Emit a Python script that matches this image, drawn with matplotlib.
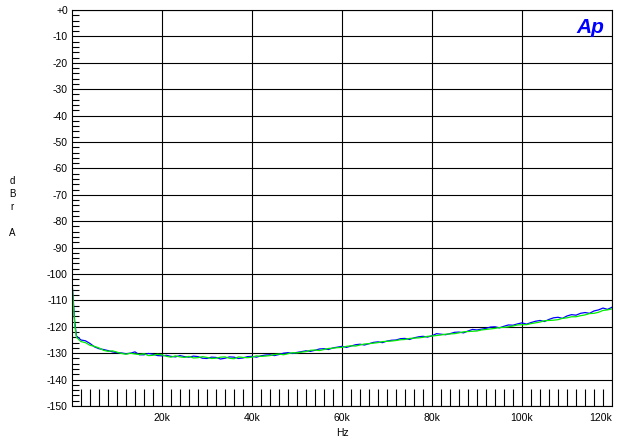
#!/usr/bin/env python3
"""
Audio Precision style noise sweep: dBr A vs Hz
"""

import numpy as np
import matplotlib
matplotlib.use('Agg')
import matplotlib.pyplot as plt
from matplotlib.ticker import MultipleLocator, FixedLocator

plt.rcParams['font.family'] = ['Liberation Sans', 'DejaVu Sans']

# frequency points in kHz: low end, then 1 kHz steps 1..120
freq_khz = [0.01, 0.3, 0.6] + list(range(1, 121))

blue_db = [-103.0, -110.0, -118.0,
           -123.5, -125.0, -125.3, -126.3, -127.6, -128.3, -128.6, -129.0, -129.5, -129.8,
           -129.9, -130.2, -130.0, -129.5, -130.6, -130.6, -130.1, -130.4, -130.9, -131.0,
           -130.8, -131.2, -131.4, -130.9, -131.3, -131.5, -131.1, -131.3, -131.9, -132.0,
           -131.5, -131.6, -132.2, -131.9, -131.4, -131.5, -132.0, -131.8, -131.3, -131.2,
           -131.5, -131.0, -130.7, -130.6, -130.9, -130.5, -130.0, -129.8, -130.1, -129.7,
           -129.4, -129.1, -129.3, -128.9, -128.4, -128.3, -128.6, -128.0, -127.7, -127.4,
           -127.8, -127.3, -126.8, -126.6, -126.9, -126.4, -125.9, -125.7, -126.0, -125.4,
           -125.1, -125.0, -124.5, -124.4, -124.8, -124.2, -123.8, -123.6, -123.9, -123.4,
           -122.6, -122.8, -123.0, -122.6, -122.1, -122.0, -122.3, -121.6, -121.0, -121.2,
           -120.9, -120.6, -120.1, -120.0, -120.4, -119.8, -119.3, -119.4, -118.9, -118.5,
           -119.0, -118.4, -117.9, -117.6, -118.0, -117.2, -116.6, -116.4, -116.8, -115.9,
           -115.4, -115.6, -114.9, -114.6, -114.9, -114.0, -113.6, -112.9, -113.4, -112.6]

green_db = [-102.5, -111.0, -119.0,
            -124.0, -125.6, -126.0, -127.0, -127.4, -128.0, -128.9, -129.3, -129.1, -129.6,
            -130.1, -130.4, -130.0, -130.3, -130.5, -130.2, -130.9, -130.8, -130.4, -130.6,
            -131.2, -131.5, -131.0, -131.4, -131.6, -131.2, -131.8, -131.7, -131.3, -131.6,
            -132.0, -131.9, -131.5, -131.4, -131.9, -132.1, -131.4, -131.6, -131.7, -131.5,
            -131.0, -131.2, -131.1, -130.9, -130.5, -130.3, -130.6, -130.2, -129.8, -129.9,
            -129.6, -129.4, -128.9, -128.8, -129.0, -128.6, -128.2, -128.1, -127.9, -127.8,
            -127.4, -127.2, -127.3, -126.9, -126.5, -126.4, -126.2, -126.0, -125.6, -125.5,
            -125.4, -125.2, -124.9, -124.8, -124.4, -124.3, -124.2, -124.0, -123.6, -123.5,
            -123.3, -123.1, -122.8, -122.7, -122.6, -122.3, -121.9, -121.8, -121.7, -121.6,
            -121.2, -121.0, -120.8, -120.6, -120.3, -120.2, -120.0, -119.7, -119.3, -119.2,
            -119.2, -118.8, -118.5, -118.2, -117.7, -117.6, -117.5, -117.3, -116.8, -116.6,
            -116.2, -116.2, -115.8, -115.5, -115.0, -114.9, -114.5, -113.8, -113.6, -113.2]

x_ticks = [20000, 40000, 60000, 80000, 100000, 120000]
x_labels = ['20k', '40k', '60k', '80k', '100k', '120k']
y_ticks = list(range(0, -151, -10))
y_labels = ['+0'] + [str(v) for v in y_ticks[1:]]


def main():
    fig = plt.figure(figsize=(6.17, 4.40), dpi=100)
    ax = fig.add_axes([72 / 617, 34 / 440, 540 / 617, 396 / 440])

    f_hz = np.array(freq_khz) * 1000.0
    ax.plot(f_hz, blue_db, color='#0000ff', linewidth=0.9)
    ax.plot(f_hz, green_db, color='#00ee00', linewidth=0.9)

    ax.set_xlim(10, 120000)
    ax.set_ylim(-150, 0)

    ax.xaxis.set_major_locator(FixedLocator(x_ticks))
    ax.set_xticklabels(x_labels)
    ax.xaxis.set_minor_locator(MultipleLocator(2000))
    ax.yaxis.set_major_locator(FixedLocator(y_ticks))
    ax.set_yticklabels(y_labels)
    ax.yaxis.set_minor_locator(MultipleLocator(2))

    ax.tick_params(axis='x', which='major', length=0, pad=5, labelsize=7.5)
    ax.tick_params(axis='x', which='minor', direction='in', length=12,
                   width=0.8, color='black')
    ax.tick_params(axis='y', which='major', length=0, pad=3, labelsize=7.5)
    ax.tick_params(axis='y', which='minor', direction='in', length=5,
                   width=0.8, color='black')

    # last x label sits inside the frame
    ax.get_xticklabels()[-1].set_horizontalalignment('right')
    ax.get_xticklabels()[-1].set_x(121500)

    ax.grid(True, which='major', color='black', linewidth=0.8)
    for sp in ax.spines.values():
        sp.set_color('black')
        sp.set_linewidth(0.8)

    fig.text(12 / 617, 1 - 207 / 440, 'd\nB\nr\n\nA', ha='center', va='center',
             fontsize=7, linespacing=1.35)
    fig.text((72 + 612) / 2 / 617, 1 - 433 / 440, 'Hz', ha='center',
             va='center', fontsize=7.5)

    ax.text(0.985, 0.955, 'Ap', transform=ax.transAxes, ha='right', va='center',
            fontsize=15, fontweight='bold', fontstyle='italic', color='#0000ff')

    plt.savefig('out.png', dpi=100)


if __name__ == "__main__":
    main()
